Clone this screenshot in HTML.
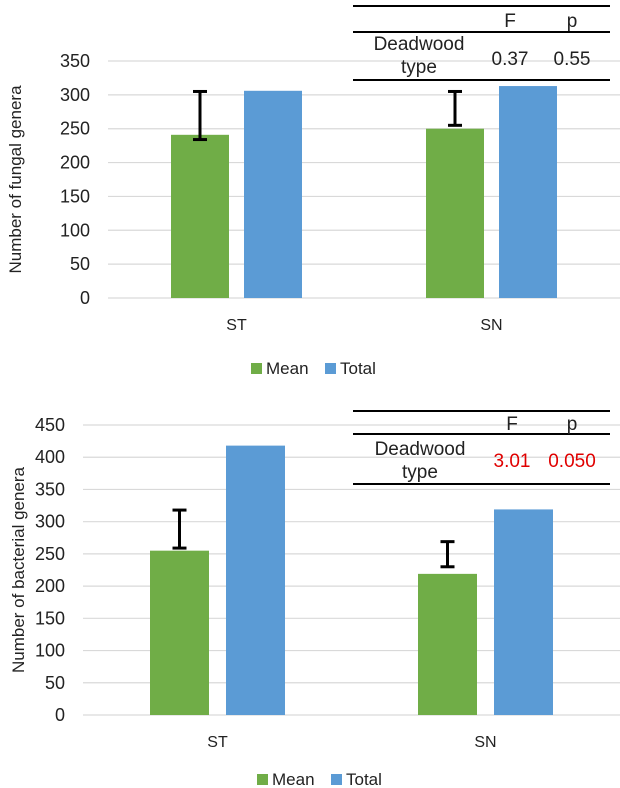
<!DOCTYPE html>
<html><head><meta charset="utf-8"><style>
body{margin:0;background:#fff;}
svg{display:block;font-family:"Liberation Sans",sans-serif;}
</style></head><body>
<svg id="svg" width="620" height="788" viewBox="0 0 620 788"></svg>
<script>
const categories = ["ST","SN"];
const fungalMean = [241, 250];
const fungalTotal = [306, 313];
const fungalErrLow = [234, 255];
const fungalErrHigh = [305, 305];
const fungalTicks = [0,50,100,150,200,250,300,350];
const bactMean = [255, 219];
const bactTotal = [418, 319];
const bactErrLow = [259, 230];
const bactErrHigh = [318, 269];
const bactTicks = [0,50,100,150,200,250,300,350,400,450];

const NS="http://www.w3.org/2000/svg";
const svg=document.getElementById('svg');
function mk(tag,attrs,parent,text){const e=document.createElementNS(NS,tag);for(const k in attrs)e.setAttribute(k,attrs[k]);if(text!==undefined)e.textContent=text;(parent||svg).appendChild(e);return e;}

function chart(o){
  const g=mk('g',{});
  
  
  const y=v=>o.y0-(v/o.max)*(o.y0-o.yTop);
  o.ticks.forEach(t=>{
    const gl=mk('line',{x1:o.gridX,x2:620,y1:y(t),y2:y(t),stroke:'#d9d9d9','stroke-width':1.2},g);
    
    
    const tx=mk('text',{x:o.tickX,y:y(t)+6,'text-anchor':'end','font-size':18,fill:'#222'},g,t);
    
    
  });
  const yt=mk('text',{x:0,y:0,transform:`translate(${o.titleX},${(o.y0+o.yTop)/2}) rotate(-90)`,'text-anchor':'middle','font-size':17,fill:'#222'},g,o.title);
  
  
  categories.forEach((c,i)=>{
    const gx=o.groupX[i];
    const m=o.mean[i],t=o.total[i];
    const b1=mk('rect',{x:gx,y:y(m),width:o.bw,height:o.y0-y(m),fill:'#70ad47'},g);
    
    
    const b2=mk('rect',{x:gx+o.bw+o.gap,y:y(t),width:o.bw,height:o.y0-y(t),fill:'#5b9bd5'},g);
    
    
    const cx=gx+o.bw/2;
    const eb=mk('g',{stroke:'#000','stroke-width':3},g);
    
    
    mk('line',{x1:cx,x2:cx,y1:y(o.lo[i]),y2:y(o.hi[i])},eb);
    mk('line',{x1:cx-7,x2:cx+7,y1:y(o.lo[i]),y2:y(o.lo[i])},eb);
    mk('line',{x1:cx-7,x2:cx+7,y1:y(o.hi[i]),y2:y(o.hi[i])},eb);
    const cl=mk('text',{x:gx+o.bw+o.gap/2,y:o.y0+32,'text-anchor':'middle','font-size':16,fill:'#222'},g,c);
    
    
  });
  const lg=mk('g',{},g);
  
  
  mk('rect',{x:o.legX,y:o.legY-11,width:11,height:11,fill:'#70ad47'},lg);
  mk('text',{x:o.legX+15,y:o.legY,'font-size':17,fill:'#222'},lg,'Mean');
  mk('rect',{x:o.legX+74,y:o.legY-11,width:11,height:11,fill:'#5b9bd5'},lg);
  mk('text',{x:o.legX+89,y:o.legY,'font-size':17,fill:'#222'},lg,'Total');
  const tb=mk('g',{},g);
  
  
  const T=o.table;
  [T.l1,T.l2,T.l3].forEach(ly=>mk('line',{x1:353,x2:610,y1:ly,y2:ly,stroke:'#000','stroke-width':2},tb));
  mk('text',{x:T.fx,y:T.fy,'text-anchor':'middle','font-size':19,fill:'#222'},tb,'F');
  mk('text',{x:T.px,y:T.fy,'text-anchor':'middle','font-size':19,fill:'#222'},tb,'p');
  mk('text',{x:T.dx,y:T.dy,'text-anchor':'middle','font-size':19,fill:'#222'},tb,'Deadwood');
  mk('text',{x:T.dx,y:T.dy+23,'text-anchor':'middle','font-size':19,fill:'#222'},tb,'type');
  mk('text',{x:T.fx,y:T.vy,'text-anchor':'middle','font-size':19,fill:T.color},tb,T.F);
  mk('text',{x:T.px,y:T.vy,'text-anchor':'middle','font-size':19,fill:T.color},tb,T.p);
}
chart({name:'fungal-chart',y0:298,yTop:61,max:350,ticks:fungalTicks,tickX:90,gridX:108,title:'Number of fungal genera',titleX:21,
  groupX:[171,426],bw:58,gap:15,mean:fungalMean,total:fungalTotal,lo:fungalErrLow,hi:fungalErrHigh,legX:251,legY:374,
  table:{l1:6,l2:32,l3:80,fx:510,px:572,fy:27,dx:419,dy:50,vy:65,F:'0.37',p:'0.55',color:'#222'}});
chart({name:'bacterial-chart',y0:715,yTop:425,max:450,ticks:bactTicks,tickX:65,gridX:83,title:'Number of bacterial genera',titleX:24,
  groupX:[150,418],bw:59,gap:17,mean:bactMean,total:bactTotal,lo:bactErrLow,hi:bactErrHigh,legX:257,legY:785,
  table:{l1:411,l2:434,l3:484,fx:512,px:572,fy:430,dx:420,dy:455,vy:467,F:'3.01',p:'0.050',color:'#e00000'}});
</script>
</body></html>
